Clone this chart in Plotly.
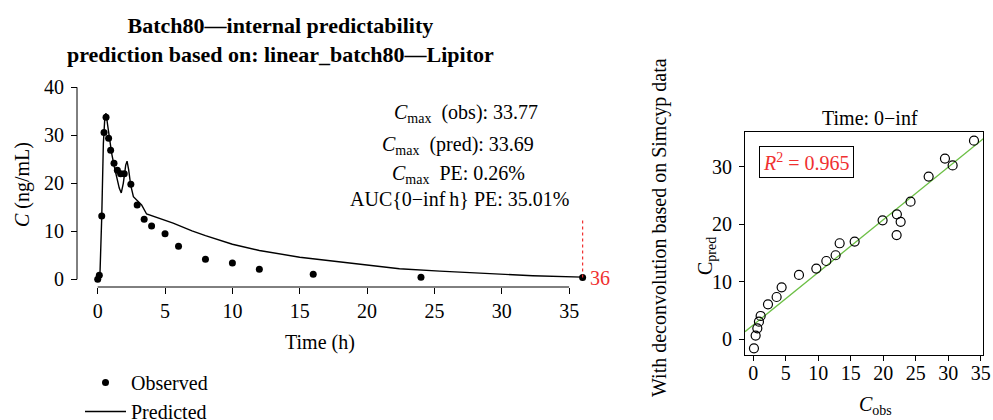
import numpy as np
import plotly.graph_objects as go

# ---------------- data ----------------
t_obs = [0, 0.12, 0.3, 0.47, 0.62, 0.81, 0.96, 1.21, 1.46, 1.7, 1.97, 2.46,
         2.93, 3.45, 4, 5, 6, 8, 10, 12, 16, 24, 36]
c_obs = [0, 0.83, 13.2, 30.6, 33.77, 29.4, 26.9, 24.2, 22.7, 22.0, 22.0, 19.8,
         15.5, 12.5, 11.1, 9.5, 6.9, 4.2, 3.4, 2.1, 1.05, 0.42, 0.35]

t_pred = [0, 0.17, 0.3, 0.42, 0.54, 0.62, 0.74, 0.86, 1.04, 1.23, 1.46, 1.6,
          1.75, 1.9, 2.08, 2.18, 2.3, 2.45, 2.65, 2.94, 3.26, 3.63, 4.5, 5.6,
          7, 8, 10, 12, 15, 18, 20, 22.4, 25.4, 27.4, 30, 32.3, 36]
c_pred = [0, 1.25, 13, 28.3, 34.2, 34.6, 32.1, 29.4, 26.2, 23.5, 20.7, 19.0,
          18.0, 20.0, 23.8, 24.6, 22.8, 19.6, 17.2, 16.4, 15.5, 13.6, 12.8, 11.7,
          10.1, 9.1, 7.3, 6.0, 4.6, 3.6, 3.0, 2.2, 1.7, 1.4, 1.05, 0.75, 0.45]

end_marker_top = 12.8   # top of the dotted red line at the last time point

left_xticks = [0, 5, 10, 15, 20, 25, 30, 35]
left_yticks = [0, 10, 20, 30, 40]

sc_obs = [0.1, 0.36, 0.62, 0.87, 1.13, 2.26, 3.59, 4.36, 7.03, 9.7, 11.24, 12.67,
          13.29, 15.6, 19.9, 22.1, 22.06, 22.68, 24.2, 26.99, 29.5, 30.68, 33.97]
sc_pred = [-1.56, 0.64, 1.9, 3.07, 4.05, 6.08, 7.35, 9.03, 11.18, 12.28, 13.6, 14.6,
           16.68, 16.97, 20.67, 21.7, 18.1, 20.4, 23.9, 28.26, 31.4, 30.2, 34.5]

right_xticks = [0, 5, 10, 15, 20, 25, 30, 35]
right_yticks = [0, 10, 20, 30]

# ---------------- geometry helpers ----------------
W, H = 993, 420
def px_x(p):
    return p / W
def px_y(p):
    return 1 - p / H

FONT = "Liberation Serif"

# left panel pixel calibration
def lt(p):
    return (p - 97.7) / 13.47
def lc(p):
    return (279.3 - p) / 4.8

# right panel pixel calibration
def rx(p):
    return (p - 753.3) / 6.497
def ry(p):
    return (339.3 - p) / 5.757

r_xrange = [rx(745), rx(983.3)]
r_yrange = [ry(355), ry(132.3)]

slope, intercept = np.polyfit(sc_obs, sc_pred, 1)
fit_x = np.array(r_xrange)
fit_y = intercept + slope * fit_x

fig = go.Figure()

fig.add_trace(go.Scatter(
    x=t_pred, y=c_pred, mode="lines", name="Predicted",
    line=dict(color="black", width=1.4), xaxis="x", yaxis="y", legendrank=2))
fig.add_trace(go.Scatter(
    x=t_obs, y=c_obs, mode="markers", name="Observed",
    marker=dict(color="black", size=7), xaxis="x", yaxis="y", legendrank=1))
fig.add_trace(go.Scatter(
    x=[t_obs[-1], t_obs[-1]], y=[c_obs[-1], end_marker_top], mode="lines",
    line=dict(color="#f03030", width=1.2, dash="dot"), showlegend=False,
    xaxis="x", yaxis="y"))

fig.add_trace(go.Scatter(
    x=fit_x, y=fit_y, mode="lines", line=dict(color="#6cbf45", width=1.3),
    showlegend=False, xaxis="x2", yaxis="y2"))
fig.add_trace(go.Scatter(
    x=sc_obs, y=sc_pred, mode="markers",
    marker=dict(symbol="circle-open", size=9, color="black", line=dict(width=1.2)),
    showlegend=False, xaxis="x2", yaxis="y2"))

tickfont = dict(family=FONT, size=20, color="black")

fig.update_layout(
    width=W, height=H, autosize=False,
    margin=dict(l=0, r=0, t=0, b=0, autoexpand=False),
    paper_bgcolor="white", plot_bgcolor="white",
    font=dict(family=FONT, size=20, color="black"),
    xaxis=dict(domain=[px_x(85), px_x(600)], range=[lt(85), lt(600)],
               anchor="free", position=px_y(287), tickvals=left_xticks,
               ticks="outside", ticklen=6, tickcolor="black", showline=False,
               showgrid=False, zeroline=False, tickfont=tickfont,
               ticklabelstandoff=0, automargin=False),
    yaxis=dict(domain=[px_y(285), px_y(80)], range=[lc(285), lc(80)],
               anchor="free", position=px_x(77), tickvals=left_yticks,
               ticks="outside", ticklen=6, tickcolor="black", showline=False,
               showgrid=False, zeroline=False, tickfont=tickfont,
               ticklabelstandoff=3, automargin=False),
    xaxis2=dict(domain=[px_x(745), px_x(983.3)], range=r_xrange, anchor="y2",
                tickvals=right_xticks, ticks="outside", ticklen=5, tickcolor="black",
                showline=True, mirror=True, linecolor="black", linewidth=1,
                showgrid=False, zeroline=False, tickfont=tickfont,
                ticklabelstandoff=-5, automargin=False),
    yaxis2=dict(domain=[px_y(355), px_y(132.3)], range=r_yrange, anchor="x2",
                tickvals=right_yticks, ticks="outside", ticklen=5, tickcolor="black",
                showline=True, mirror=True, linecolor="black", linewidth=1,
                showgrid=False, zeroline=False, tickfont=tickfont,
                ticklabelstandoff=3, automargin=False),
    showlegend=True,
    legend=dict(x=px_x(80), y=px_y(363), xanchor="left", yanchor="top",
                bgcolor="rgba(0,0,0,0)", font=dict(family=FONT, size=20),
                tracegroupgap=0, itemwidth=41, borderwidth=0),
)

# R-style axis lines spanning first to last tick
fig.add_shape(type="line", xref="x", yref="paper",
              x0=left_xticks[0], x1=left_xticks[-1], y0=px_y(287), y1=px_y(287),
              line=dict(color="black", width=1))
fig.add_shape(type="line", xref="paper", yref="y",
              x0=px_x(77), x1=px_x(77), y0=left_yticks[0], y1=left_yticks[-1],
              line=dict(color="black", width=1))

def ann(text, x, y, size=20, color="black", angle=0, **kw):
    fig.add_annotation(text=text, x=px_x(x), y=px_y(y), xref="paper", yref="paper",
                       showarrow=False, textangle=angle, xanchor="center",
                       yanchor="middle",
                       font=dict(family=FONT, size=size, color=color), **kw)

ann("<b>Batch80—internal predictability<br>prediction based on: linear_batch80—Lipitor</b>",
    280, 40, size=22)
ann("<i>C</i><sub>max</sub>  (obs): 33.77", 466, 114)
ann("<i>C</i><sub>max</sub>  (pred): 33.69", 458, 145)
ann("<i>C</i><sub>max</sub>  PE: 0.26%", 458, 174)
ann("AUC{0−inf\u2009h} PE: 35.01%", 459, 199)
ann("<i>C</i> (ng/mL)", 22, 185, angle=-90)
ann("Time (h)", 320, 342)

fig.add_annotation(text="36", x=t_obs[-1], y=c_obs[-1], xref="x", yref="y",
                   showarrow=False, xanchor="left", yanchor="middle", xshift=5,
                   font=dict(family=FONT, size=20, color="#f03030"))

ann("Time: 0−inf", 870, 118)
ann("With deconvolution based on Simcyp data", 660, 228, angle=-90)
ann("C<sub>pred</sub>", 706, 256, angle=-90)
ann("<i>C</i><sub>obs</sub>", 875, 405)
ann("<i>R</i><sup>2</sup> = 0.965", 806.5, 161.5, color="#f03030",
    bordercolor="black", borderwidth=1, borderpad=3, bgcolor="white")

fig.write_html("out.html", config={"displayModeBar": False},
               post_script="document.body.style.margin='0px';"
                           "document.body.style.overflow='hidden';")
